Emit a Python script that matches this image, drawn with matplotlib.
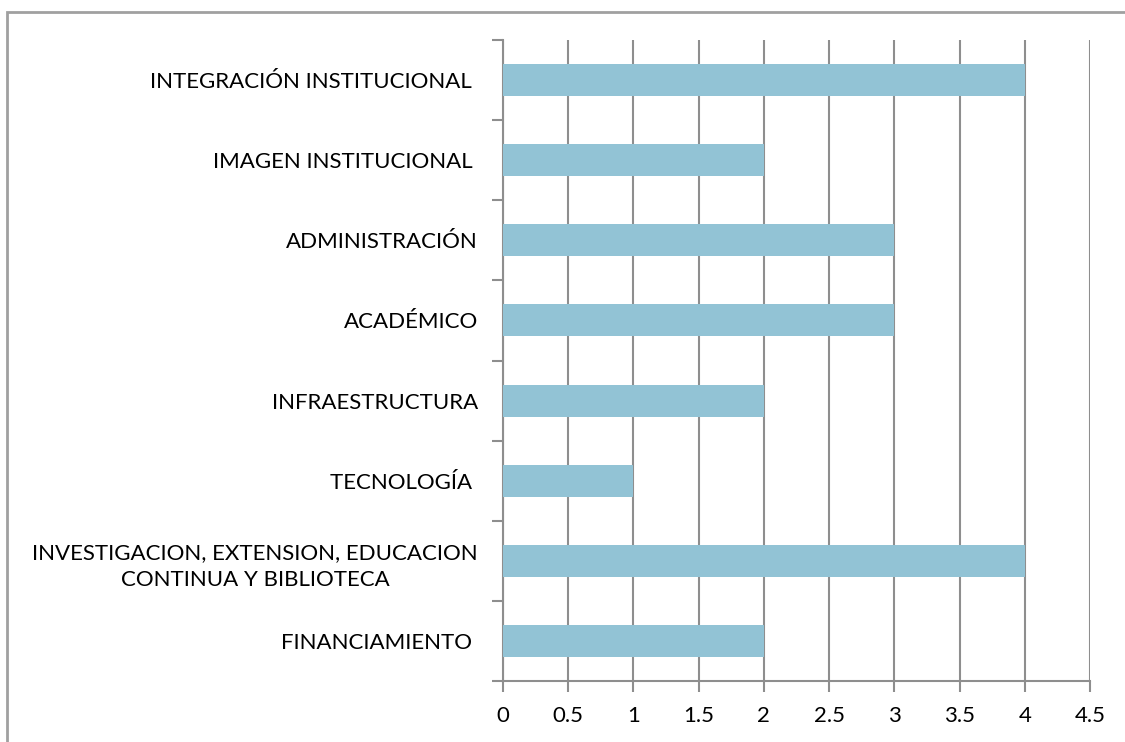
import numpy as np
from matplotlib import pyplot as plt
from matplotlib.patches import Rectangle

# categories listed bottom to top
categories = [
    "FINANCIAMIENTO ",
    "INVESTIGACION, EXTENSION, EDUCACION\nCONTINUA Y BIBLIOTECA",
    "TECNOLOGÍA ",
    "INFRAESTRUCTURA",
    "ACADÉMICO",
    "ADMINISTRACIÓN",
    "IMAGEN INSTITUCIONAL ",
    "INTEGRACIÓN INSTITUCIONAL ",
]
values = [2, 4, 1, 2, 3, 3, 2, 4]
x_ticks = [0, 0.5, 1, 1.5, 2, 2.5, 3, 3.5, 4, 4.5]
x_tick_labels = ["0", "0.5", "1", "1.5", "2", "2.5", "3", "3.5", "4", "4.5"]


def main():
    plt.rcParams['font.family'] = ['Lato', 'DejaVu Sans']
    grid_col = '#8e8e8e'

    fig = plt.figure(figsize=(11.25, 7.42), dpi=100)
    ax = fig.add_axes([503 / 1125, 1 - 681 / 742, 587 / 1125, 641 / 742])

    y = np.arange(len(categories))
    ax.barh(y, values, height=0.4, color='#92c3d5', zorder=3)

    ax.set_xlim(0, 4.5)
    ax.set_ylim(-0.5, len(categories) - 0.5)
    ax.set_xticks(x_ticks)
    ax.set_xticklabels(x_tick_labels, fontsize=16)
    ax.set_yticks(y)
    ax.set_yticklabels(categories, fontsize=16, multialignment='center',
                       linespacing=1.45)
    ax.tick_params(axis='y', length=0, pad=18)
    ax.tick_params(axis='x', length=8, width=1.5, color=grid_col, pad=10)

    # category boundary ticks on the left axis
    ax.set_yticks(np.arange(-0.5, len(categories)), minor=True)
    ax.tick_params(axis='y', which='minor', length=8, width=1.5, color=grid_col)

    ax.grid(axis='x', color=grid_col, linewidth=1.5, zorder=0)
    for side in ['top', 'right']:
        ax.spines[side].set_visible(False)
    for side in ['left', 'bottom']:
        ax.spines[side].set_color(grid_col)
        ax.spines[side].set_linewidth(1.5)

    # outer chart frame, cut off at the right and bottom
    fig.patches.append(Rectangle((7 / 1125, -0.1), 1.2, 1 - 12 / 742 + 0.1,
                                 transform=fig.transFigure, fill=False,
                                 edgecolor='#a0a0a0', linewidth=2))

    fig.savefig('out.png', dpi=100)


if __name__ == "__main__":
    main()
